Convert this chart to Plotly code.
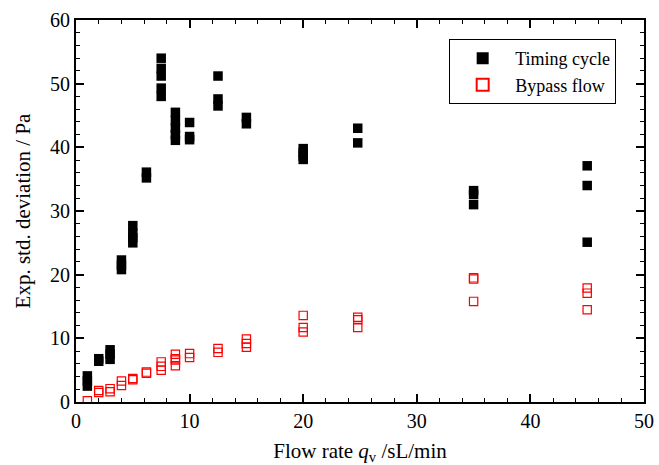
import plotly.graph_objects as go

# Timing cycle (filled black squares)
timing_x = [1, 1, 1, 2, 2, 3, 3, 3, 4, 4, 4, 5, 5, 5, 5, 6.2, 6.2,
            7.5, 7.5, 7.5, 7.5, 7.5, 8.75, 8.75, 8.75, 8.75, 8.75,
            10, 10, 10, 12.5, 12.5, 12.5, 15, 15, 20, 20, 20, 20,
            24.8, 24.8, 35, 35, 35, 45, 45, 45]
timing_y = [4.1, 3.3, 2.5, 6.8, 6.4, 8.2, 7.5, 6.7, 22.3, 21.5, 20.8,
            27.7, 26.5, 25.8, 25.0, 36.1, 35.2,
            54.0, 52.4, 51.2, 49.3, 48.0, 45.5, 44.2, 43.0, 42.0, 41.1,
            43.9, 41.7, 41.2, 51.2, 47.6, 46.5, 44.7, 43.7,
            39.8, 39.2, 38.6, 38.1, 43.0, 40.7, 33.2, 32.6, 31.0,
            37.1, 34.0, 25.1]

# Bypass flow (open red squares)
bypass_x = [1, 2, 2, 3, 3, 4, 4, 5, 5, 6.2, 6.2, 7.5, 7.5, 7.5,
            8.75, 8.75, 8.75, 8.75, 10, 10, 12.5, 12.5, 15, 15, 15,
            20, 20, 20, 24.8, 24.8, 24.8, 35, 35, 35, 45, 45, 45]
bypass_y = [0.2, 1.8, 1.5, 2.1, 1.6, 3.3, 2.6, 3.7, 3.5, 4.7, 4.5,
            6.3, 5.6, 5.0, 7.5, 6.8, 6.6, 5.7, 7.6, 7.0, 8.4, 7.8,
            9.9, 9.2, 8.6, 13.6, 11.7, 11.0, 13.3, 12.9, 11.7,
            19.5, 19.3, 15.8, 17.9, 17.1, 14.5]

x_ticks = [0, 10, 20, 30, 40, 50]
y_ticks = [0, 10, 20, 30, 40, 50, 60]

FONT = "Liberation Serif, Times New Roman, serif"

fig = go.Figure()
fig.add_trace(go.Scatter(
    x=timing_x, y=timing_y, mode="markers", name="Timing cycle",
    marker=dict(symbol="square", size=9.5, color="black", line=dict(width=0)),
))
fig.add_trace(go.Scatter(
    x=bypass_x, y=bypass_y, mode="markers", name="Bypass flow",
    marker=dict(symbol="square-open", size=8.3, color="red",
                line=dict(width=1.2, color="red")),
))

axis_common = dict(
    showline=True, linecolor="black", linewidth=2, mirror="ticks",
    ticks="inside", ticklen=8, tickwidth=1.5, tickcolor="black",
    showgrid=False, zeroline=False, automargin=False,
    tickfont=dict(family=FONT, size=20, color="black"),
)

fig.update_xaxes(
    range=[0, 50], tickvals=x_ticks,
    minor=dict(dtick=2, ticks="inside", ticklen=4, tickwidth=1.2, tickcolor="black"),
    title=dict(text="Flow rate <i>q</i><sub>v</sub> /sL/min",
               font=dict(family=FONT, size=21, color="black"), standoff=18),
    **axis_common,
)
fig.update_yaxes(
    range=[0, 60], tickvals=y_ticks,
    minor=dict(dtick=2, ticks="inside", ticklen=4, tickwidth=1.2, tickcolor="black"),
    title=dict(text="Exp. std. deviation / Pa",
               font=dict(family=FONT, size=21, color="black"), standoff=14),
    **axis_common,
)

fig.update_layout(
    width=659, height=465,
    margin=dict(l=76, r=15, t=20, b=63),
    plot_bgcolor="white", paper_bgcolor="white",
    font=dict(family=FONT, size=19, color="black"),
    legend=dict(
        x=0.657, y=0.95, xanchor="left", yanchor="top",
        bordercolor="black", borderwidth=1, bgcolor="white",
        font=dict(family=FONT, size=18, color="black"),
        itemsizing="constant", tracegroupgap=0, itemwidth=55,
    ),
    showlegend=True,
)

fig.write_html("out.html")
